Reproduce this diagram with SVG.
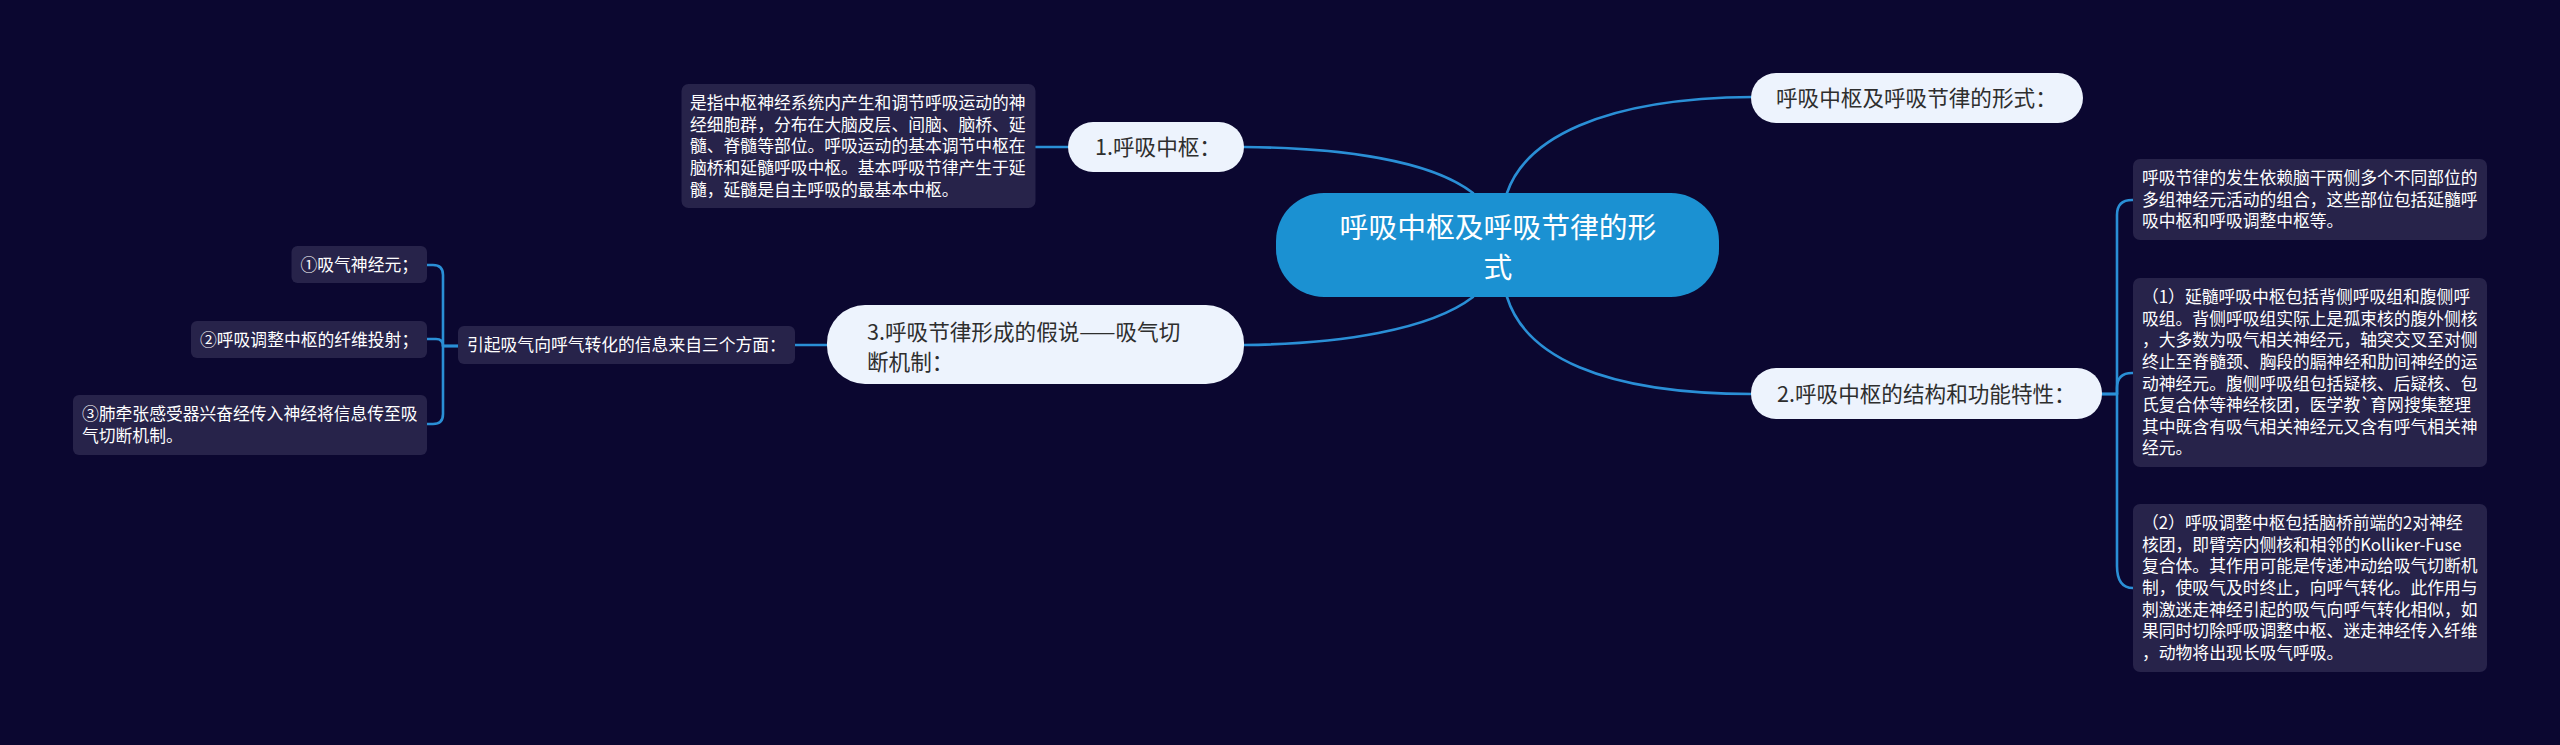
<svg xmlns="http://www.w3.org/2000/svg" width="2560" height="745" viewBox="0 0 2560 745">
<style>
.bg{fill:#0b0730}
.box{fill:#27234a}
.pill{fill:#edf3fd}
.center{fill:#1b91d2}
.conn{fill:none;stroke:#2a8fd6;stroke-width:2.6;stroke-linecap:round;stroke-linejoin:round}
.st{font-family:"Noto Sans CJK SC","Noto Sans",sans-serif;font-size:16.8px;fill:#ffffff}
.nt{font-family:"Noto Sans CJK SC","Noto Sans",sans-serif;font-size:21.6px;fill:#2e2e2e}
.ct{font-family:"Noto Sans CJK SC","Noto Sans",sans-serif;font-size:28.8px;fill:#ffffff;text-anchor:middle}
</style>
<rect class="bg" x="0" y="0" width="2560" height="745"/>
<g id="connectors">
<path class="conn" d="M1244 147 C1340 148 1430 160 1473 193"/>
<path class="conn" d="M1507 193 C1525 140 1600 98 1753 97"/>
<path class="conn" d="M1473 297 C1430 330 1340 344 1244 345"/>
<path class="conn" d="M1507 297 C1525 355 1600 394 1753 394"/>
<path class="conn" d="M1035 147 H1068"/>
<path class="conn" d="M795 345 H827"/>
<path class="conn" d="M458 346 H443 V275 Q443 265 433 265 H427"/>
<path class="conn" d="M458 346 H443 Q443 339 436 339 H427"/>
<path class="conn" d="M458 346 H443 V414 Q443 424 433 424 H427"/>
<path class="conn" d="M2102 394 H2117 V215 Q2117 200 2132 200 H2133"/>
<path class="conn" d="M2102 394 H2117 V388 Q2117 373 2132 373 H2133"/>
<path class="conn" d="M2102 394 H2117 V566 Q2117 588 2133 588"/>
</g>
<g id="root">
<rect class="center" x="1276" y="193" width="443" height="104" rx="48"/>
<text class="ct"><tspan x="1498" y="238">呼吸中枢及呼吸节律的形</tspan><tspan x="1498" y="278">式</tspan></text>
</g>
<g id="n-form">
<rect class="pill" x="1751" y="73" width="332" height="50" rx="25"/>
<text class="nt" x="1776" y="106">呼吸中枢及呼吸节律的形式：</text>
</g>
<g id="n1">
<rect class="pill" x="1068" y="122" width="176" height="50" rx="25"/>
<text class="nt" x="1095" y="155">1.呼吸中枢：</text>
</g>
<g id="n1-desc">
<rect class="box" x="681.5" y="84" width="354" height="124" rx="7"/>
<text class="st"><tspan x="690" y="109.2">是指中枢神经系统内产生和调节呼吸运动的神</tspan><tspan x="690" y="130.8">经细胞群，分布在大脑皮层、间脑、脑桥、延</tspan><tspan x="690" y="152.4">髓、脊髓等部位。呼吸运动的基本调节中枢在</tspan><tspan x="690" y="174">脑桥和延髓呼吸中枢。基本呼吸节律产生于延</tspan><tspan x="690" y="195.6">髓，延髓是自主呼吸的最基本中枢。</tspan></text>
</g>
<g id="n3">
<rect class="pill" x="827" y="305" width="417" height="79" rx="38"/>
<text class="nt"><tspan x="867" y="340">3.呼吸节律形成的假说——吸气切</tspan><tspan x="867" y="370">断机制：</tspan></text>
</g>
<g id="n3-info">
<rect class="box" x="458" y="326" width="337" height="38" rx="6"/>
<text class="st" x="467" y="351.2">引起吸气向呼气转化的信息来自三个方面：</text>
</g>
<g id="n3-a">
<rect class="box" x="291.5" y="246" width="135.5" height="37" rx="6"/>
<text class="st" x="300.5" y="271">①吸气神经元；</text>
</g>
<g id="n3-b">
<rect class="box" x="191" y="321" width="236" height="37" rx="6"/>
<text class="st" x="200" y="346">②呼吸调整中枢的纤维投射；</text>
</g>
<g id="n3-c">
<rect class="box" x="73" y="395" width="354" height="60" rx="6"/>
<text class="st"><tspan x="82" y="420.2">③肺牵张感受器兴奋经传入神经将信息传至吸</tspan><tspan x="82" y="441.8">气切断机制。</tspan></text>
</g>
<g id="n2">
<rect class="pill" x="1751" y="368" width="351" height="51" rx="25"/>
<text class="nt" x="1777" y="402">2.呼吸中枢的结构和功能特性：</text>
</g>
<g id="n2-a">
<rect class="box" x="2133" y="159" width="354" height="81" rx="7"/>
<text class="st"><tspan x="2142" y="184.2">呼吸节律的发生依赖脑干两侧多个不同部位的</tspan><tspan x="2142" y="205.8">多组神经元活动的组合，这些部位包括延髓呼</tspan><tspan x="2142" y="227.4">吸中枢和呼吸调整中枢等。</tspan></text>
</g>
<g id="n2-b">
<rect class="box" x="2133" y="278" width="354" height="189" rx="7"/>
<text class="st"><tspan x="2142" y="303.2">（1）延髓呼吸中枢包括背侧呼吸组和腹侧呼</tspan><tspan x="2142" y="324.8">吸组。背侧呼吸组实际上是孤束核的腹外侧核</tspan><tspan x="2142" y="346.4">，大多数为吸气相关神经元，轴突交叉至对侧</tspan><tspan x="2142" y="368">终止至脊髓颈、胸段的膈神经和肋间神经的运</tspan><tspan x="2142" y="389.6">动神经元。腹侧呼吸组包括疑核、后疑核、包</tspan><tspan x="2142" y="411.2">氏复合体等神经核团，医学教`育网搜集整理</tspan><tspan x="2142" y="432.8">其中既含有吸气相关神经元又含有呼气相关神</tspan><tspan x="2142" y="454.4">经元。</tspan></text>
</g>
<g id="n2-c">
<rect class="box" x="2133" y="504" width="354" height="168" rx="7"/>
<text class="st"><tspan x="2142" y="529.2">（2）呼吸调整中枢包括脑桥前端的2对神经</tspan><tspan x="2142" y="550.8">核团，即臂旁内侧核和相邻的Kolliker-Fuse</tspan><tspan x="2142" y="572.4">复合体。其作用可能是传递冲动给吸气切断机</tspan><tspan x="2142" y="594">制，使吸气及时终止，向呼气转化。此作用与</tspan><tspan x="2142" y="615.6">刺激迷走神经引起的吸气向呼气转化相似，如</tspan><tspan x="2142" y="637.2">果同时切除呼吸调整中枢、迷走神经传入纤维</tspan><tspan x="2142" y="658.8">，动物将出现长吸气呼吸。</tspan></text>
</g>
</svg>
